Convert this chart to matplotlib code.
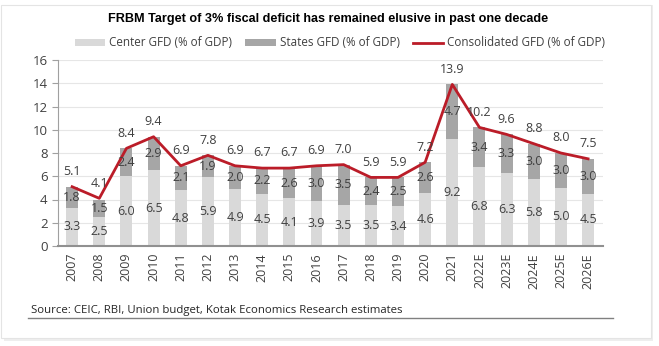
import numpy as np
import matplotlib.pyplot as plt
from matplotlib.patches import Rectangle
from matplotlib.lines import Line2D

# datos
years = ["2007", "2008", "2009", "2010", "2011", "2012", "2013", "2014", "2015", "2016",
         "2017", "2018", "2019", "2020", "2021", "2022E", "2023E", "2024E", "2025E", "2026E"]
center = [3.3, 2.5, 6.0, 6.5, 4.8, 5.9, 4.9, 4.5, 4.1, 3.9,
          3.5, 3.5, 3.4, 4.6, 9.2, 6.8, 6.3, 5.8, 5.0, 4.5]
states = [1.8, 1.5, 2.4, 2.9, 2.1, 1.9, 2.0, 2.2, 2.6, 3.0,
          3.5, 2.4, 2.5, 2.6, 4.7, 3.4, 3.3, 3.0, 3.0, 3.0]
consolidated = [5.1, 4.1, 8.4, 9.4, 6.9, 7.8, 6.9, 6.7, 6.7, 6.9,
                7.0, 5.9, 5.9, 7.2, 13.9, 10.2, 9.6, 8.8, 8.0, 7.5]

W, H = 659, 346
fig = plt.figure(figsize=(W / 100, H / 100), dpi=100)
plt.rcParams['font.family'] = ['Open Sans', 'DejaVu Sans']

# marco tipo tarjeta
fig.patches.append(Rectangle((4 / W, 1 - 341 / H), 649 / W, 336 / H, transform=fig.transFigure,
                             facecolor="#eeeeee", edgecolor="none", zorder=-2))
fig.patches.append(Rectangle((1 / W, 1 - 338 / H), 650 / W, 333 / H, transform=fig.transFigure,
                             facecolor="white", edgecolor="#e4e4e4", lw=0.8, zorder=-1))

ax = fig.add_axes([58 / W, 1 - 246 / H, 545 / W, 186 / H])
x = np.arange(len(years))
c = np.array(center)
s = np.array(states)
t = np.array(consolidated)

b1 = ax.bar(x, c, width=0.44, color="#d9d9d9", label="Center GFD (% of GDP)", zorder=2)
b2 = ax.bar(x, s, width=0.44, bottom=c, color="#a6a6a6", label="States GFD (% of GDP)", zorder=2)
l1, = ax.plot(x, t, color="#bb1c28", lw=2, label="Consolidated GFD (% of GDP)", zorder=3)

lab = dict(ha="center", va="center", fontsize=9, color="#404040", zorder=4)
for i in range(len(years)):
    ax.text(x[i], c[i] / 2, f"{c[i]:.1f}", **lab)
    ax.text(x[i], c[i] + s[i] / 2, f"{s[i]:.1f}", **lab)
    ax.text(x[i], t[i] + 1.3, f"{t[i]:.1f}", **lab)

ax.set_xlim(-0.52, 19.55)
ax.set_ylim(0, 16)
ax.set_yticks(range(0, 17, 2))
ax.set_xticks(x)
ax.set_xticklabels(years, rotation=90, fontsize=9, color="#404040")
ax.tick_params(axis="y", labelsize=9.5, colors="#404040", length=4, color="#a0a0a0")
ax.tick_params(axis="x", length=0, pad=5)
ax.grid(axis="y", color="#e6e6e6", lw=0.8, zorder=0)
ax.set_axisbelow(True)
for sp in ["top", "right"]:
    ax.spines[sp].set_visible(False)
ax.spines["left"].set_color("#a0a0a0")
ax.spines["bottom"].set_color("#909090")
ax.spines["bottom"].set_linewidth(1.5)

fig.text(328 / W, 1 - 19 / H, "FRBM Target of 3% fiscal deficit has remained elusive in past one decade",
         ha="center", va="center", fontsize=9.1, fontweight="bold", family="Liberation Sans")

fig.legend(handles=[b1, b2, l1], loc="center", bbox_to_anchor=(340 / W, 1 - 43 / H), ncol=3,
           frameon=False, fontsize=8.4, handlelength=2.6, handleheight=0.55, columnspacing=1.1,
           handletextpad=0.35, labelcolor="#404040")

fig.text(31 / W, 1 - 310 / H, "Source: CEIC, RBI, Union budget, Kotak Economics Research estimates",
         ha="left", va="center", fontsize=8.2, color="#262626")
fig.add_artist(Line2D([28 / W, 613 / W], [1 - 318 / H, 1 - 318 / H], transform=fig.transFigure,
                      color="#808080", lw=1))

plt.savefig("out.png", dpi=100)
